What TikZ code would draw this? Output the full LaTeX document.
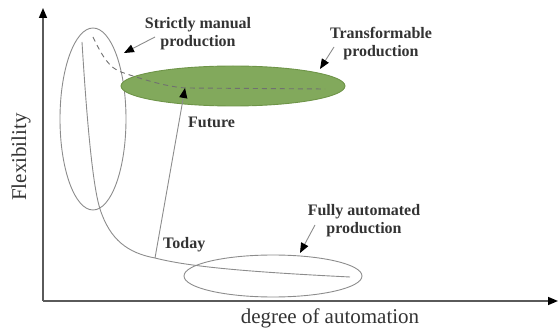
\documentclass[tikz,border=0pt]{standalone}
\usepackage{fontspec}
\setmainfont{Liberation Serif}
\usetikzlibrary{shapes.geometric,arrows.meta}
\definecolor{fillgreen}{HTML}{82A95C}
\definecolor{edgegreen}{HTML}{6E9448}
\definecolor{linegray}{HTML}{8C8C8C}
\definecolor{axisgray}{HTML}{5A5A5A}
\definecolor{txtgray}{HTML}{333333}
\begin{document}
\begin{tikzpicture}[x=1pt,y=-1pt,
  axis/.style={draw=axisgray,line width=1.6pt,-{Triangle[length=10pt,width=8pt,color=black]}},
  curve/.style={draw=linegray,line width=0.9pt},
  ell/.style={ellipse,draw=linegray,line width=0.9pt,inner sep=0pt},
  annot/.style={text=txtgray,font=\fontsize{16}{18}\selectfont\bfseries,align=center,inner sep=0pt},
  axlabel/.style={text=txtgray,font=\fontsize{21}{23}\selectfont,inner sep=0pt},
  pointer/.style={draw=linegray,line width=0.9pt,-{Triangle[length=10pt,width=8pt,color=black]}}]
\useasboundingbox (0,0) rectangle (560,331);
% ellipses
\node[ell,minimum width=66pt,minimum height=182pt] (manual) at (93,119) {};
\node[ell,draw=edgegreen,fill=fillgreen,minimum width=224pt,minimum height=40pt] (transf) at (233,86) {};
\node[ell,minimum width=178pt,minimum height=42pt] (auto) at (273,276) {};
% axes
\coordinate (origin) at (43,301);
\coordinate (ytip) at (43,8);
\coordinate (xtip) at (558,301);
\draw[axis] (origin) -- (ytip);
\draw[axis] (origin) -- (xtip);
% main curve
\coordinate (cstart) at (82,42);
\coordinate (today) at (155,258);
\coordinate (cend) at (350,277);
\draw[curve] (cstart) .. controls (88,140) and (94,190) .. (100,209)
  .. controls (110,240) and (128,253) .. (today)
  .. controls (190,267) and (250,272) .. (cend);
% dashed curve
\coordinate (dstart) at (93,37);
\coordinate (dend) at (325,89);
\draw[draw=linegray!80!black,line width=0.9pt,dash pattern=on 5pt off 4pt]
  (dstart) .. controls (103,58) and (110,68) .. (121,72)
  .. controls (150,82) and (170,87) .. (186,88) -- (dend);
% today -> future
\coordinate (future) at (185,88);
\draw[pointer] (today) -- (future);
\node[annot,anchor=west] (futurelbl) at (188,122) {Future};
\node[annot,anchor=west] (todaylbl) at (163,245) {Today};
% annotation labels
\node[annot] (manlbl) at (198,34) {Strictly manual\\production};
\node[annot] (tflbl) at (381,44) {Transformable\\production};
\node[annot] (autolbl) at (364,221) {Fully automated\\production};
\coordinate (manfrom) at (155,37);
\coordinate (manto) at (124,53);
\coordinate (tffrom) at (334,47);
\coordinate (tfto) at (320,69);
\coordinate (autofrom) at (315,225);
\coordinate (autoto) at (300,253);
\draw[pointer] (manfrom) -- (manto);
\draw[pointer] (tffrom) -- (tfto);
\draw[pointer] (autofrom) -- (autoto);
% axis labels
\node[axlabel,rotate=90] (ylbl) at (21,157) {Flexibility};
\node[axlabel] (xlbl) at (330,318) {degree of automation};
\end{tikzpicture}
\end{document}
